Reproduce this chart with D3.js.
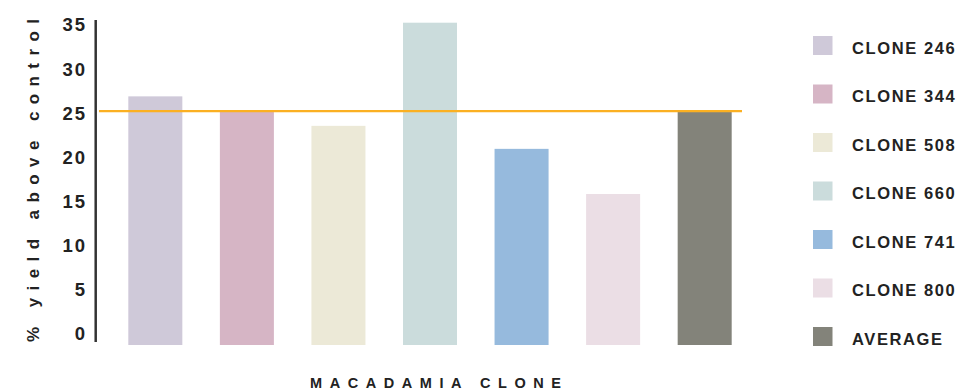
<!DOCTYPE html>
<html>
<head>
<meta charset="utf-8">
<script src="https://cdn.jsdelivr.net/npm/d3@7"></script>
<style>
  body { margin: 0; background: #fff; }
  text { font-family: "Liberation Sans", Arial, sans-serif; font-weight: bold; fill: #222; }
</style>
</head>
<body>
<script>
//////////////// Data ////////////////////
var clones = ["CLONE 246", "CLONE 344", "CLONE 508", "CLONE 660", "CLONE 741", "CLONE 800", "AVERAGE"];
var yields = [27.0, 25.3, 23.8, 35.0, 21.3, 16.4, 25.3];
var colors = ["#cfc9d9", "#d6b5c5", "#ece9d7", "#cbdcdc", "#96badd", "#ebdee5", "#83837a"];
var yTicks = [0, 5, 10, 15, 20, 25, 30, 35];
var averageLine = 25.4;

var width = 959, height = 391;

//////////////// SVG ////////////////////
var svg = d3.select("body")
  .append("svg")
  .attr("width", width)
  .attr("height", height);

////////////////// Scaling ////////////
var xScale = d3.scaleBand()
  .domain(clones)
  .range([110, 750])
  .paddingInner(0.41)
  .paddingOuter(0.2);

var yScale = d3.scaleLinear()
  .domain([0, 35])
  .range([345, 22.7]);

// tick labels sit a little inside the bar range
var labelScale = d3.scaleLinear()
  .domain([0, 35])
  .range([334, 25]);

//////////////// Bars ////////////////
svg.selectAll("rect.bar")
  .data(yields)
  .enter()
  .append("rect")
  .attr("class", "bar")
  .attr("x", function(d, i) {return xScale(clones[i]);})
  .attr("y", function(d) {return yScale(d);})
  .attr("width", xScale.bandwidth())
  .attr("height", function(d) {return yScale(0) - yScale(d);})
  .attr("fill", function(d, i) {return colors[i];});

//////////// Average line /////////////
svg.append("line")
  .attr("x1", 99)
  .attr("x2", 742)
  .attr("y1", yScale(averageLine))
  .attr("y2", yScale(averageLine))
  .style("stroke", "#fbb022")
  .style("stroke-width", 2.2);

//////////// Axis /////////////
svg.append("line")
  .attr("x1", 95.7)
  .attr("x2", 95.7)
  .attr("y1", 20)
  .attr("y2", 342)
  .style("stroke", "#333")
  .style("stroke-width", 2.5);

var yAxis = d3.axisLeft(labelScale)
  .tickValues(yTicks)
  .tickSize(0)
  .tickPadding(0);

var yAxisG = svg.append("g")
  .attr("transform", "translate(87,0)")
  .call(yAxis);
yAxisG.select(".domain").remove();
yAxisG.selectAll("text")
  .attr("font-family", null)
  .style("font-size", "18.5px")
  .style("letter-spacing", "2px")
  .style("fill", "#222");

//////////// Axis titles /////////////
svg.append("text")
  .attr("transform", "translate(38.5,342) rotate(-90)")
  .attr("textLength", 323)
  .attr("lengthAdjust", "spacing")
  .style("font-size", "17px")
  .text("% yield above control");

svg.append("text")
  .attr("x", 310)
  .attr("y", 388)
  .attr("textLength", 251)
  .attr("lengthAdjust", "spacing")
  .style("font-size", "14.5px")
  .text("MACADAMIA CLONE");

//////////// Legend /////////////
var legendY = d3.scalePoint()
  .domain(clones)
  .range([36, 327]);

var legend = svg.selectAll("g.legend")
  .data(clones)
  .enter()
  .append("g")
  .attr("class", "legend")
  .attr("transform", function(d) {return "translate(813," + legendY(d) + ")";});

legend.append("rect")
  .attr("width", 19.5)
  .attr("height", 19)
  .attr("fill", function(d, i) {return colors[i];});

legend.append("text")
  .attr("x", 39)
  .attr("y", 17.5)
  .style("font-size", "16.5px")
  .style("letter-spacing", "1.6px")
  .text(function(d) {return d;});
</script>
</body>
</html>
